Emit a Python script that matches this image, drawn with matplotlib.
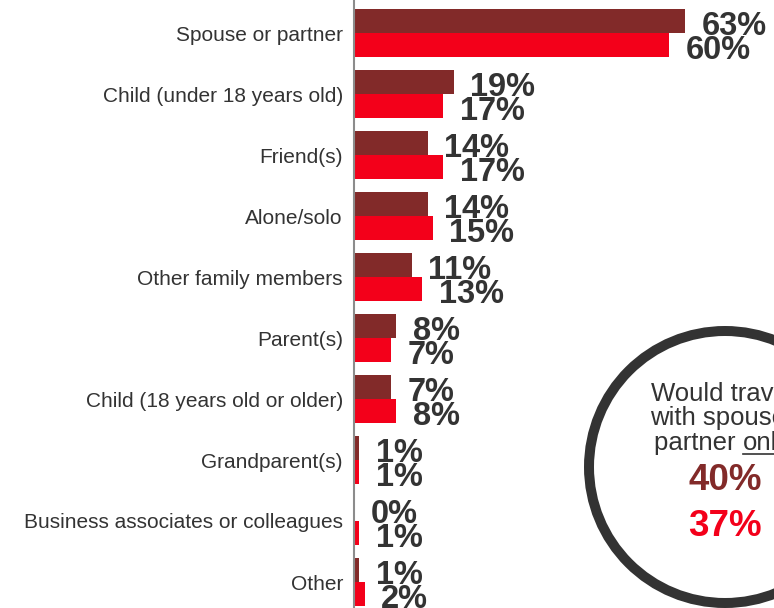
import numpy as np
import matplotlib.pyplot as plt
from matplotlib.patches import Circle

plt.rcParams['font.family'] = ['Liberation Sans', 'DejaVu Sans']

categories = ["Spouse or partner", "Child (under 18 years old)", "Friend(s)", "Alone/solo",
              "Other family members", "Parent(s)", "Child (18 years old or older)",
              "Grandparent(s)", "Business associates or colleagues", "Other"]
dark_vals = [63, 19, 14, 14, 11, 8, 7, 1, 0, 1]
red_vals = [60, 17, 17, 15, 13, 7, 8, 1, 1, 2]
circle_lines = ["Would travel", "with spouse/", "partner "]
circle_underlined = "only"
circle_dark = "40%"
circle_red = "37%"

DARK = "#822a29"
RED = "#f3001a"
TEXT = "#333333"

W, H = 774, 608
fig = plt.figure(figsize=(W / 100, H / 100), dpi=100)

# bar axes: left edge at x=354 px, 5.25 px per percent, 61 px per row
ax = fig.add_axes([354 / W, 0, 1 - 354 / W, 1])
ax.set_xlim(0, (W - 354) / 5.25)
ax.set_ylim((H - 33) / 61, -33 / 61)

y = np.arange(len(categories))
bh = 24 / 61
ax.barh(y - bh / 2, dark_vals, height=bh, color=DARK)
ax.barh(y + bh / 2, red_vals, height=bh, color=RED)

for i in range(len(categories)):
    ax.annotate(f"{dark_vals[i]}%", (dark_vals[i], y[i] - bh / 2), xytext=(12, -4),
                textcoords="offset points", ha="left", va="center",
                fontsize=23.5, fontweight="bold", color=TEXT)
    ax.annotate(f"{red_vals[i]}%", (red_vals[i], y[i] + bh / 2), xytext=(12, -4),
                textcoords="offset points", ha="left", va="center",
                fontsize=23.5, fontweight="bold", color=TEXT)

ax.set_yticks(y)
ax.set_yticklabels(categories, fontsize=15, color=TEXT)
ax.tick_params(axis="y", length=0, pad=8)
ax.set_xticks([])
for s in ["top", "right", "bottom"]:
    ax.spines[s].set_visible(False)
ax.spines["left"].set_color("#8c8c8c")
ax.spines["left"].set_linewidth(1.5)

# overlay in pixel coordinates for the circle callout
ov = fig.add_axes([0, 0, 1, 1], facecolor="none")
ov.set_xlim(0, W)
ov.set_ylim(H, 0)
ov.axis("off")
cx, cy = 725, 467
ov.add_patch(Circle((cx, cy), 136, fill=True, facecolor="white", edgecolor="#333333",
                    linewidth=7.2, zorder=1))

line_y = [394, 418, 443]
ov.text(cx - 3, line_y[0], circle_lines[0], ha="center", va="center", fontsize=18.5, color=TEXT)
ov.text(cx - 3, line_y[1], circle_lines[1], ha="center", va="center", fontsize=18.5, color=TEXT)

# last line with underlined word
fig.canvas.draw()
r = fig.canvas.get_renderer()
t1 = ov.text(0, 0, circle_lines[2], fontsize=18.5)
t2 = ov.text(0, 0, circle_underlined, fontsize=18.5)
w1 = t1.get_window_extent(r).width
w2 = t2.get_window_extent(r).width
t1.remove()
t2.remove()
x0 = cx - 3 - (w1 + w2) / 2
ov.text(x0, line_y[2], circle_lines[2], ha="left", va="center", fontsize=18.5, color=TEXT)
ov.text(x0 + w1, line_y[2], circle_underlined, ha="left", va="center", fontsize=18.5, color=TEXT)
ov.plot([x0 + w1, x0 + w1 + w2], [line_y[2] + 11, line_y[2] + 11], color=TEXT, lw=1.2)

ov.text(cx, 480, circle_dark, ha="center", va="center", fontsize=26.5, fontweight="bold", color=DARK)
ov.text(cx, 526, circle_red, ha="center", va="center", fontsize=26.5, fontweight="bold", color=RED)

fig.savefig("out.png", dpi=100)
